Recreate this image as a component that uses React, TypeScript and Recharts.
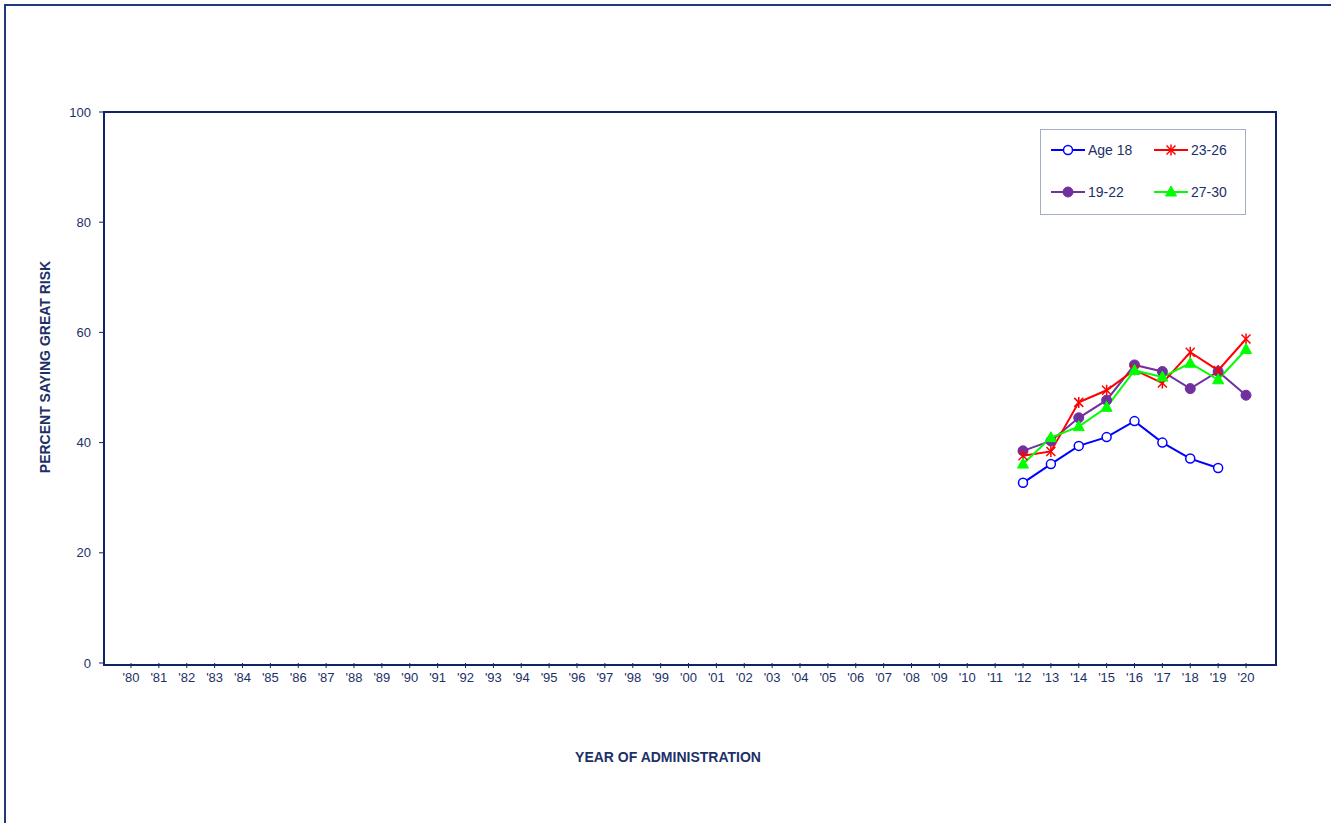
import React from "react";
import { LineChart, Line, XAxis, YAxis } from "recharts";

const years = [
  "'80", "'81", "'82", "'83", "'84", "'85", "'86", "'87", "'88", "'89",
  "'90", "'91", "'92", "'93", "'94", "'95", "'96", "'97", "'98", "'99",
  "'00", "'01", "'02", "'03", "'04", "'05", "'06", "'07", "'08", "'09",
  "'10", "'11", "'12", "'13", "'14", "'15", "'16", "'17", "'18", "'19", "'20",
];

// survey values start in '12
const firstYear = "'12";
const age18 = [32.7, 36.1, 39.4, 41.0, 43.9, 40.0, 37.1, 35.4, null];
const age19to22 = [38.5, 40.3, 44.5, 47.7, 54.1, 52.9, 49.8, 52.9, 48.6];
const age23to26 = [37.6, 38.4, 47.3, 49.5, 53.2, 50.8, 56.4, 53.1, 58.8];
const age27to30 = [36.1, 40.9, 42.9, 46.4, 53.1, 51.9, 54.4, 51.4, 56.9];

const yTicks = [0, 20, 40, 60, 80, 100];

const NAVY = "#0f2466";
const TEXT = "#1c3068";

const start = years.indexOf(firstYear);
const data = years.map((year, i) => {
  const k = i - start;
  const pick = (arr: (number | null)[]) => (k >= 0 && k < arr.length ? arr[k] : null);
  return {
    year,
    age18: pick(age18),
    age19to22: pick(age19to22),
    age23to26: pick(age23to26),
    age27to30: pick(age27to30),
  };
});

const openCircle = (cx: number, cy: number, key?: any) => (
  <circle key={key} cx={cx} cy={cy} r={4.5} fill="#fff" stroke="#0000ff" strokeWidth={1.5} />
);
const fullCircle = (cx: number, cy: number, key?: any) => (
  <circle key={key} cx={cx} cy={cy} r={5} fill="#7030a0" stroke="#7030a0" />
);
const star = (cx: number, cy: number, key?: any) => (
  <g key={key} stroke="#ff0000" strokeWidth={1.5}>
    <line x1={cx - 4.5} y1={cy - 4.5} x2={cx + 4.5} y2={cy + 4.5} />
    <line x1={cx - 4.5} y1={cy + 4.5} x2={cx + 4.5} y2={cy - 4.5} />
    <line x1={cx} y1={cy - 5.5} x2={cx} y2={cy + 5.5} />
  </g>
);
const triangle = (cx: number, cy: number, key?: any) => (
  <path key={key} d={`M${cx},${cy - 6} L${cx + 5.5},${cy + 4} L${cx - 5.5},${cy + 4} Z`} fill="#00ff00" stroke="#00ff00" />
);

const dotOf = (shape: (cx: number, cy: number, key?: any) => React.ReactElement) => (props: any) => {
  const { cx, cy, index, value } = props;
  if (value == null || cy == null || isNaN(cy)) return <g key={`n-${index}`} />;
  return shape(cx, cy, `d-${index}`);
};

const series = [
  { key: "age18", name: "Age 18", color: "#0000ff", shape: openCircle },
  { key: "age19to22", name: "19-22", color: "#7030a0", shape: fullCircle },
  { key: "age23to26", name: "23-26", color: "#ff0000", shape: star },
  { key: "age27to30", name: "27-30", color: "#00ff00", shape: triangle },
];

function LegendBox() {
  const items = [
    { s: series[0], x: 11, y: 21 },
    { s: series[2], x: 114, y: 21 },
    { s: series[1], x: 11, y: 63 },
    { s: series[3], x: 114, y: 63 },
  ];
  return (
    <svg
      width={206}
      height={86}
      style={{ position: "absolute", left: 1040, top: 129 }}
    >
      <rect x={0.5} y={0.5} width={205} height={85} fill="#fff" stroke="#a3adc4" />
      {items.map(({ s, x, y }) => (
        <g key={s.key}>
          <line x1={x} y1={y} x2={x + 34} y2={y} stroke={s.color} strokeWidth={2} />
          {s.shape(x + 17, y)}
          <text x={x + 37} y={y + 5} fontSize={14} fill={TEXT} fontFamily="Arial, 'Liberation Sans', sans-serif">
            {s.name}
          </text>
        </g>
      ))}
    </svg>
  );
}

export default function App() {
  return (
    <div
      style={{
        position: "fixed",
        left: 0,
        top: 0,
        width: 1331,
        height: 823,
        overflow: "hidden",
        background: "#fff",
        fontFamily: "Arial, 'Liberation Sans', sans-serif",
      }}
    >
      <div
        style={{
          position: "absolute",
          left: 4,
          top: 4,
          width: 1400,
          height: 900,
          border: "2px solid #1f3a7a",
        }}
      />
      <LineChart
        width={1331}
        height={823}
        data={data}
        margin={{ top: 112, right: 56, bottom: 130, left: 0 }}
      >
        <XAxis
          dataKey="year"
          interval={0}
          height={30}
          padding={{ left: 27, right: 29 }}
          axisLine={false}
          tickLine={{ stroke: NAVY }}
          tickSize={5}
          tickMargin={5}
          tick={{ fill: TEXT, fontSize: 13 }}
          label={() => (
            <text
              x={668}
              y={762}
              textAnchor="middle"
              fontSize={14}
              fontWeight="bold"
              fill={TEXT}
            >
              YEAR OF ADMINISTRATION
            </text>
          )}
        />
        <YAxis
          width={104}
          domain={[0, 100]}
          ticks={yTicks}
          axisLine={false}
          tickLine={{ stroke: NAVY }}
          tickSize={5}
          tickMargin={8}
          tick={{ fill: TEXT, fontSize: 13 }}
          label={() => (
            <text
              x={50}
              y={367}
              transform="rotate(-90 50 367)"
              textAnchor="middle"
              fontSize={14}
              fontWeight="bold"
              fill={TEXT}
            >
              PERCENT SAYING GREAT RISK
            </text>
          )}
        />
        {series.map((s) => (
          <Line
            key={s.key}
            type="linear"
            dataKey={s.key}
            name={s.name}
            stroke={s.color}
            strokeWidth={2}
            dot={dotOf(s.shape)}
            activeDot={false}
            connectNulls={false}
            isAnimationActive={false}
          />
        ))}
      </LineChart>
      {/* plot area frame */}
      <div
        style={{
          position: "absolute",
          left: 103,
          top: 111,
          width: 1170,
          height: 551,
          border: `2px solid ${NAVY}`,
          pointerEvents: "none",
        }}
      />
      <LegendBox />
    </div>
  );
}
